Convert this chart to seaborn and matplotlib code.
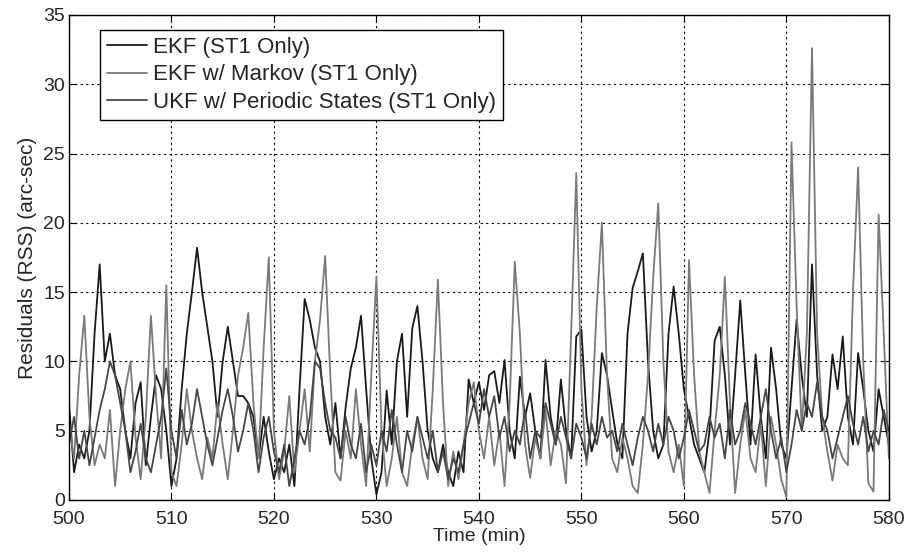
import numpy as np
import pandas as pd
import matplotlib
matplotlib.use("Agg")
import matplotlib.pyplot as plt
import seaborn as sns

# time axis in minutes, 0.5 min steps
t_start, t_step = 500.0, 0.5

ekf = [
    7.0, 2.0, 4.0, 3.0, 5.0, 12.0, 17.0, 10.0, 12.0, 9.0, 8.0, 5.0, 3.0, 7.0, 8.5, 2.5, 6.0, 9.0, 8.0, 5.0,
    1.0, 3.0, 8.0, 12.0, 15.0, 18.2, 15.0, 12.5, 10.0, 6.0, 10.0, 12.5, 10.0, 7.5, 7.5, 7.0, 6.0, 3.0, 6.0, 3.5,
    1.5, 3.0, 2.0, 4.0, 1.0, 8.0, 14.5, 13.0, 11.0, 10.0, 6.0, 4.0, 7.0, 3.0, 6.7, 9.5, 11.0, 13.3, 8.0, 3.0,
    0.4, 2.0, 7.9, 4.0, 10.0, 12.0, 6.0, 12.4, 14.0, 10.0, 5.0, 3.0, 2.0, 4.0, 2.0, 1.0, 3.5, 2.0, 8.7, 7.0,
    8.5, 6.5, 9.0, 9.3, 7.0, 10.1, 5.0, 3.0, 8.9, 6.0, 7.7, 5.0, 3.0, 10.1, 6.0, 4.0, 8.7, 5.0, 3.0, 11.8,
    12.3, 6.0, 3.5, 5.0, 10.6, 9.0, 6.5, 4.1, 3.0, 12.0, 15.3, 16.5, 17.8, 10.0, 5.0, 3.0, 4.0, 12.0, 15.4, 12.0,
    8.0, 6.0, 4.0, 3.0, 2.0, 5.0, 11.5, 12.5, 9.0, 4.0, 9.0, 14.4, 9.0, 4.0, 10.5, 6.0, 3.0, 11.0, 8.0, 4.0,
    3.0, 8.0, 13.0, 9.0, 6.0, 17.0, 9.0, 5.0, 6.0, 10.5, 8.0, 11.8, 6.0, 4.0, 10.6, 8.0, 5.0, 3.5, 8.0, 6.0,
    4.0,
]

ekf_markov = [
    5.5, 3.0, 9.0, 13.3, 6.0, 2.5, 4.0, 3.0, 6.5, 1.0, 5.0, 8.0, 10.0, 4.5, 1.5, 6.0, 13.3, 7.5, 3.0, 15.5,
    2.0, 1.0, 4.0, 8.0, 5.0, 3.0, 1.5, 4.5, 3.0, 7.0, 4.0, 1.5, 5.0, 9.0, 11.0, 13.5, 7.0, 3.0, 11.0, 17.5,
    5.0, 1.5, 3.5, 7.5, 2.0, 5.0, 8.0, 3.5, 10.0, 13.0, 17.6, 9.0, 2.0, 1.4, 5.0, 3.0, 8.0, 4.0, 1.0, 9.0,
    16.1, 5.0, 1.0, 3.0, 6.0, 2.0, 1.0, 4.0, 6.0, 3.0, 1.5, 8.0, 15.9, 7.0, 1.0, 3.5, 1.5, 4.0, 7.0, 8.5,
    5.0, 3.0, 6.0, 2.5, 5.0, 1.0, 7.0, 17.2, 12.0, 4.0, 1.6, 4.5, 3.0, 6.5, 2.5, 5.0, 4.0, 1.2, 12.0, 23.6,
    8.0, 2.5, 6.0, 14.0, 20.0, 9.0, 3.0, 2.0, 4.5, 3.0, 1.0, 0.5, 4.0, 9.0, 16.0, 21.4, 10.0, 3.5, 2.0, 4.0,
    1.0, 17.3, 9.0, 3.5, 2.0, 0.5, 5.0, 9.0, 16.1, 7.0, 0.5, 4.0, 6.5, 3.0, 2.0, 5.5, 1.0, 6.0, 4.0, 1.5,
    0.2, 25.8, 14.0, 5.0, 12.0, 32.6, 12.0, 6.0, 3.5, 1.4, 4.0, 3.0, 2.5, 15.0, 24.0, 10.0, 1.2, 0.6, 20.6, 12.0,
    3.0,
]

ukf_periodic = [
    4.0, 6.0, 3.0, 5.0, 2.5, 4.5, 6.5, 8.0, 10.0, 9.0, 7.0, 5.0, 2.0, 3.5, 5.5, 3.0, 2.0, 4.0, 6.0, 9.5,
    5.0, 3.0, 6.5, 4.0, 5.5, 8.0, 6.0, 4.0, 2.5, 4.5, 6.5, 8.0, 6.0, 3.5, 5.0, 7.0, 5.0, 2.0, 4.5, 6.0,
    3.5, 2.0, 4.0, 1.0, 3.0, 5.0, 4.0, 6.0, 10.0, 9.5, 7.0, 5.0, 4.5, 3.0, 6.0, 4.0, 3.0, 5.5, 2.0, 4.0,
    2.5, 5.0, 3.5, 6.5, 4.0, 2.0, 5.0, 3.5, 6.0, 4.5, 3.0, 5.0, 2.0, 3.5, 1.5, 3.0, 2.0, 4.0, 5.5, 7.0,
    5.5, 8.0, 6.0, 7.5, 4.5, 6.0, 3.5, 5.0, 4.0, 6.5, 3.0, 5.0, 4.5, 7.0, 5.5, 4.0, 6.0, 4.5, 3.0, 5.5,
    4.5, 3.0, 5.5, 4.0, 6.0, 4.5, 5.0, 3.5, 5.5, 4.0, 2.5, 4.5, 6.0, 5.0, 3.5, 5.5, 4.0, 6.0, 5.0, 3.0,
    4.5, 6.5, 5.0, 3.5, 4.0, 6.0, 4.5, 5.5, 3.0, 6.5, 4.0, 5.0, 7.0, 5.5, 4.0, 6.0, 8.0, 5.0, 3.0, 4.5,
    2.0, 4.0, 6.5, 5.0, 7.0, 6.0, 8.5, 6.0, 5.0, 3.0, 4.5, 6.0, 7.5, 5.5, 4.0, 6.0, 3.5, 5.0, 4.0, 6.5,
    5.0,
]

labels = ['EKF (ST1 Only)', 'EKF w/ Markov (ST1 Only)', 'UKF w/ Periodic States (ST1 Only)']
colors = ['#1a1a1a', '#7a7a7a', '#474747']

n = len(ekf)
time = t_start + t_step * np.arange(n)
df = pd.DataFrame({'time': time, labels[0]: ekf, labels[1]: ekf_markov, labels[2]: ukf_periodic})
long_df = df.melt(id_vars='time', var_name='filter', value_name='resid')

sns.set_style('ticks')
plt.rcParams['font.family'] = ['Liberation Sans', 'DejaVu Sans']

fig = plt.figure(figsize=(9.07, 5.54), dpi=100)
ax = fig.add_axes([0.076, 0.0975, 0.904, 0.8755])

sns.lineplot(data=long_df, x='time', y='resid', hue='filter', hue_order=labels,
             palette=colors, linewidth=1.3, ax=ax, estimator=None, sort=False)

ax.set_xlim(500, 580)
ax.set_ylim(0, 35)
ax.set_xticks(np.arange(500, 581, 10))
ax.set_yticks(np.arange(0, 36, 5))
ax.tick_params(direction='in', top=True, right=True, labelsize=14, length=5, color='black')
ax.tick_params(axis='x', pad=8)
ax.tick_params(axis='y', pad=3)
ax.grid(True, color='black', linestyle=(0, (2, 3)), linewidth=0.8)
for s in ax.spines.values():
    s.set_color('black')
    s.set_linewidth(1.0)

ax.set_xlabel('Time (min)', fontsize=14, labelpad=0)
ax.set_ylabel('Residuals (RSS) (arc-sec)', fontsize=15, labelpad=4)

leg = ax.legend(loc='upper left', bbox_to_anchor=(0.038, 0.969), borderaxespad=0,
                fontsize=16, frameon=True, fancybox=False, handlelength=1.8,
                handletextpad=0.3, labelspacing=0.3, borderpad=0.3)
leg.get_frame().set_edgecolor('black')
leg.get_frame().set_linewidth(1.0)
leg.get_frame().set_alpha(1.0)

plt.savefig('out.png', dpi=100)
